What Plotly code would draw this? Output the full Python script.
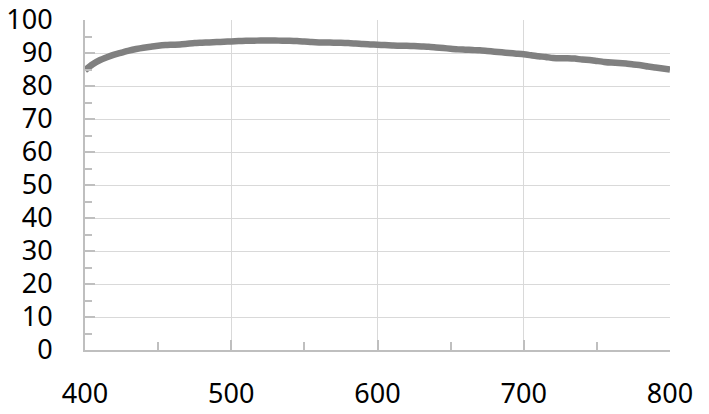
import plotly.graph_objects as go

wavelength = [400, 405, 410, 415, 420, 425, 430, 435, 440, 445, 450, 455, 460, 465, 470, 475,
              480, 485, 490, 495, 500, 505, 510, 515, 520, 525, 530, 535, 540, 545, 550, 555,
              560, 565, 570, 575, 580, 585, 590, 595, 600, 605, 610, 615, 620, 625, 630, 635,
              640, 645, 650, 655, 660, 665, 670, 675, 680, 685, 690, 695, 700, 705, 710, 715,
              720, 725, 730, 735, 740, 745, 750, 755, 760, 765, 770, 775, 780, 785, 790, 795, 800]
transmittance = [84.8, 86.5, 87.8, 88.7, 89.5, 90.1, 90.7, 91.2, 91.6, 91.9, 92.2, 92.4, 92.5, 92.6, 92.8, 93.0,
                 93.1, 93.2, 93.3, 93.4, 93.5, 93.6, 93.7, 93.7, 93.8, 93.8, 93.8, 93.7, 93.7, 93.6, 93.5, 93.3,
                 93.2, 93.2, 93.1, 93.1, 93.0, 92.9, 92.7, 92.6, 92.5, 92.4, 92.3, 92.2, 92.2, 92.1, 92.0, 91.9,
                 91.7, 91.5, 91.3, 91.1, 91.0, 90.9, 90.8, 90.6, 90.4, 90.2, 90.0, 89.8, 89.6, 89.3, 89.0, 88.8,
                 88.5, 88.4, 88.4, 88.3, 88.0, 87.9, 87.6, 87.3, 87.1, 87.0, 86.8, 86.5, 86.3, 85.9, 85.6, 85.3, 85.0]

x_ticks = [400, 500, 600, 700, 800]
y_ticks = [0, 10, 20, 30, 40, 50, 60, 70, 80, 90, 100]

fig = go.Figure()
fig.add_trace(go.Scatter(x=wavelength, y=transmittance, mode="lines",
                         line=dict(color="#808080", width=6.5, shape="spline", smoothing=0.6),
                         showlegend=False, hoverinfo="skip", cliponaxis=False))

font = dict(family="Noto Sans, Open Sans, sans-serif", size=27, color="#000000")

fig.update_layout(
    width=709, height=414,
    margin=dict(l=85, r=39, t=20, b=64, autoexpand=False),
    paper_bgcolor="white", plot_bgcolor="white",
    font=font,
    xaxis=dict(range=[400, 800], tickvals=x_ticks, ticktext=[str(v) for v in x_ticks],
               showgrid=True, gridcolor="#d9d9d9", gridwidth=1,
               showline=True, linecolor="#bfbfbf", linewidth=2,
               ticks="inside", ticklen=10, tickcolor="#bfbfbf", tickwidth=2,
               minor=dict(dtick=50, tick0=400, ticks="inside", ticklen=8, tickcolor="#bfbfbf", tickwidth=2, showgrid=False),
               zeroline=False, ticklabelstandoff=19, tickfont=font,
               automargin=False, ticklabeloverflow="allow"),
    yaxis=dict(range=[0, 100], tickvals=y_ticks, ticktext=[str(v) for v in y_ticks],
               showgrid=True, gridcolor="#d9d9d9", gridwidth=1,
               showline=True, linecolor="#bfbfbf", linewidth=2,
               ticks="inside", ticklen=10, tickcolor="#bfbfbf", tickwidth=2,
               minor=dict(dtick=5, tick0=0, ticks="inside", ticklen=7, tickcolor="#bfbfbf", tickwidth=2, showgrid=False),
               zeroline=False, ticklabelstandoff=25, tickfont=font,
               automargin=False, ticklabeloverflow="allow"),
)

fig.write_html("out.html", config={"displayModeBar": False, "staticPlot": True},
               post_script="document.body.style.margin='0';document.body.style.overflow='hidden';")
